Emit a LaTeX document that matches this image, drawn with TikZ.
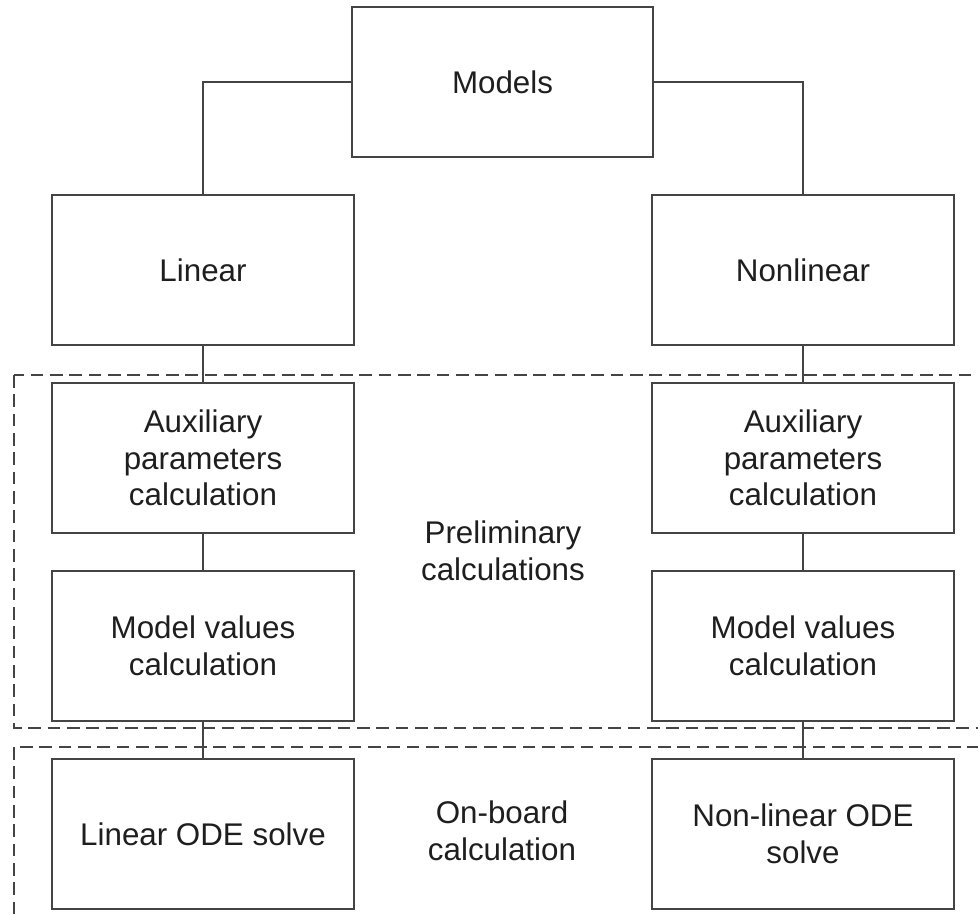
\documentclass[tikz,border=0pt]{standalone}
\usepackage{fontspec}
\setmainfont{Liberation Sans}
\usepackage{tikz}
\usetikzlibrary{positioning,calc}
\definecolor{lncol}{HTML}{444444}
\definecolor{txtcol}{HTML}{1E1E1E}

\begin{document}
\begin{tikzpicture}[x=0.75pt,y=0.75pt,yscale=-1,xscale=1,
    blk/.style={draw=lncol,line width=1.4pt,minimum width=226pt,minimum height=112.5pt,
        align=center,text=txtcol,font=\fontsize{23.5}{27.5}\selectfont},
    lbl/.style={align=center,text=txtcol,font=\fontsize{23.5}{27.5}\selectfont},
    wire/.style={draw=lncol,line width=1.4pt},
    zone/.style={draw=lncol,line width=1.5pt,dash pattern=on 9.5pt off 5pt}]
        \clip (0,0) rectangle (978,914);
        %Dashed zones
        \draw[zone] (14,375) rectangle (1000,728);
        \draw[zone] (14,747) rectangle (1000,940);
        % Boxes
        \node[blk] (models) at (502.5,82) {Models};
        \node[blk] (linear) at (203,270) {Linear};
        \node[blk] (nonlinear) at (803,270) {Nonlinear};
        \node[blk] (auxL) at (203,458) {Auxiliary\\parameters\\calculation};
        \node[blk] (auxR) at (803,458) {Auxiliary\\parameters\\calculation};
        \node[blk] (valL) at (203,646) {Model values\\calculation};
        \node[blk] (valR) at (803,646) {Model values\\calculation};
        \node[blk] (odeL) at (203,834) {Linear ODE solve};
        \node[blk] (odeR) at (803,834) {Non-linear ODE\\solve};
        % Text Node
        \node[lbl] (prelim) at (503,551) {Preliminary\\calculations};
        \node[lbl] (onboard) at (502,831) {On-board\\calculation};
        %Connectors
        \draw[wire] (models.west) -| (linear.north);
        \draw[wire] (models.east) -| (nonlinear.north);
        \draw[wire] (linear) -- (auxL);
        \draw[wire] (auxL) -- (valL);
        \draw[wire] (valL) -- (odeL);
        \draw[wire] (nonlinear) -- (auxR);
        \draw[wire] (auxR) -- (valR);
        \draw[wire] (valR) -- (odeR);
\end{tikzpicture}
\end{document}
